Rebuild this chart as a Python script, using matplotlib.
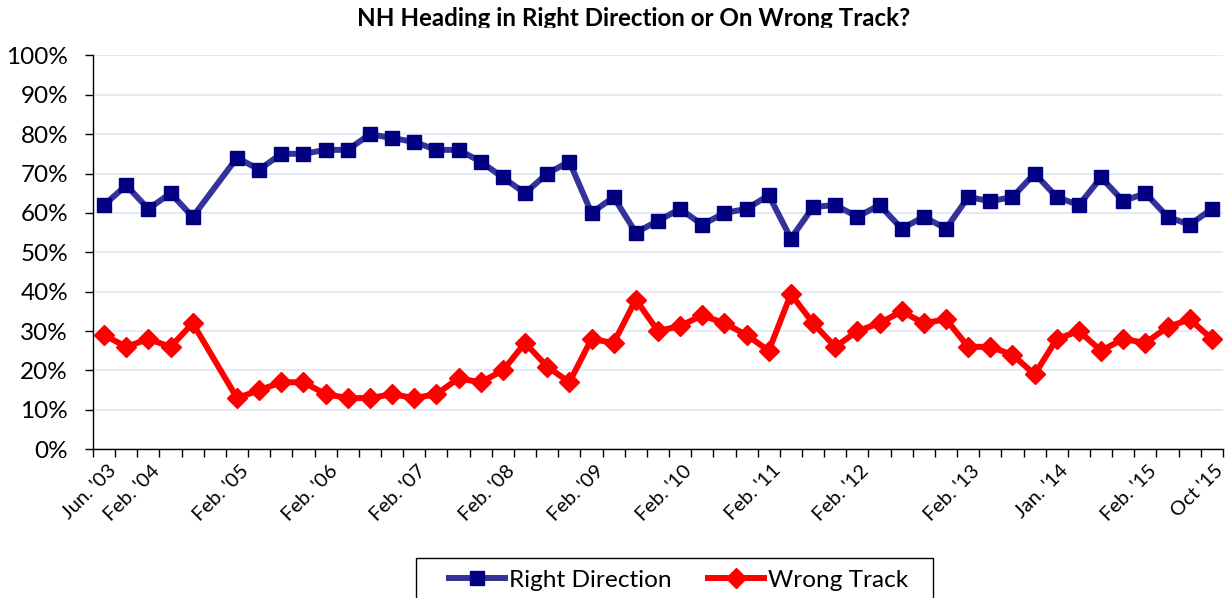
import matplotlib
matplotlib.use('Agg')
import matplotlib.pyplot as plt
import numpy as np
from matplotlib.transforms import ScaledTranslation
from matplotlib.ticker import FuncFormatter, MultipleLocator
from matplotlib.patches import Rectangle

plt.rcParams['font.family'] = ['Lato', 'DejaVu Sans']

categories = ["Jun. '03", "", "Feb. '04", "", "", "", "Feb. '05", "", "", "",
              "Feb. '06", "", "", "", "Feb. '07", "", "", "", "Feb. '08", "",
              "", "", "Feb. '09", "", "", "", "Feb. '10", "", "", "",
              "Feb. '11", "", "", "", "Feb. '12", "", "", "", "", "Feb. '13",
              "", "", "", "Jan. '14", "", "", "", "Feb. '15", "", "", "Oct '15"]

right_direction = [62, 67, 61, 65, 59, None, 74, 71, 75, 75, 76, 76, 80, 79, 78,
                   76, 76, 73, 69, 65, 70, 73, 60, 64, 55, 58, 61, 57, 60, 61,
                   64.5, 53.5, 61.5, 62, 59, 62, 56, 59, 56, 64, 63, 64, 70, 64,
                   62, 69, 63, 65, 59, 57, 61]

wrong_track = [29, 26, 28, 26, 32, None, 13, 15, 17, 17, 14, 13, 13, 14, 13, 14,
               18, 17, 20, 27, 21, 17, 28, 27, 38, 30, 31.3, 34, 32, 29, 25, 39.4,
               32, 26, 30, 32, 35, 32, 33, 26, 26, 24, 19, 28, 30, 25, 28, 27, 31,
               33, 28]

title = "NH Heading in Right Direction or On Wrong Track?"

W, H = 1227, 598
fig = plt.figure(figsize=(W / 100, H / 100), dpi=100)
ax = fig.add_axes([0.0758, 0.2487, 0.9209, 0.6588])

n = len(categories)
idx = np.arange(n)

def series(vals):
    xs = [i for i, v in zip(idx, vals) if v is not None]
    ys = [v / 100.0 for v in vals if v is not None]
    return xs, ys

xr, yr = series(right_direction)
xw, yw = series(wrong_track)

ax.plot(xr, yr, color='#333399', lw=4.3, marker='s', markersize=9.5,
        markerfacecolor='#000080', markeredgecolor='#000080',
        label='Right Direction', zorder=3, solid_joinstyle='round')
ax.plot(xw, yw, color='#FF0000', lw=4.3, marker='D', markersize=10,
        markerfacecolor='#FF0000', markeredgecolor='#FF0000',
        label='Wrong Track', zorder=3, solid_joinstyle='round')

ax.set_xlim(-0.5, n - 0.5)
ax.set_ylim(0, 1.0)
ax.yaxis.set_major_locator(MultipleLocator(0.1))
ax.yaxis.set_major_formatter(FuncFormatter(lambda v, p: f"{v*100:.0f}%"))
ax.grid(axis='y', color='#DCE4F2', lw=1.1, zorder=0)
ax.set_axisbelow(True)

for s in ['top', 'right']:
    ax.spines[s].set_visible(False)
ax.spines['left'].set_color('black')
ax.spines['bottom'].set_color('black')
ax.spines['left'].set_linewidth(1.0)
ax.spines['bottom'].set_linewidth(1.0)

ax.tick_params(axis='y', labelsize=17.5, length=6, width=1, pad=12, direction='out')

# category boundaries as minor ticks
ax.set_xticks(np.arange(-0.5, n, 1.0), minor=True)
ax.tick_params(axis='x', which='minor', length=6, width=1, direction='out')
lab_pos = [i for i, c in enumerate(categories) if c]
lab_txt = [c for c in categories if c]
ax.set_xticks(lab_pos)
ax.set_xticklabels(lab_txt, rotation=45, ha='right', va='top',
                   rotation_mode='anchor', fontsize=14.5)
ax.tick_params(axis='x', which='major', length=0, pad=9)
off = ScaledTranslation(3 / 100, 0, fig.dpi_scale_trans)
for lbl in ax.get_xticklabels():
    lbl.set_transform(lbl.get_transform() + off)

fig.text(0.516, 1 - 26 / H, title, ha='center', va='baseline',
         fontsize=17.4, fontweight='bold')
# the title is clipped at its baseline in the original picture
fig.patches.append(Rectangle((0, 1 - 45 / H), 1, 17 / H,
                             transform=fig.transFigure, color='white', zorder=5))

leg = fig.legend(loc='center', bbox_to_anchor=(678.5 / W, 1 - 580 / H),
                 ncol=2, fontsize=17.6, frameon=False, handlelength=2.3,
                 columnspacing=1.5, borderpad=0, borderaxespad=0,
                 handletextpad=0.16)
# legend frame (bottom edge falls outside the picture, as in the original)
fig.patches.append(Rectangle((416 / W, -10 / H), (933 - 416) / W, (50) / H,
                             transform=fig.transFigure, facecolor='none',
                             edgecolor='black', lw=1.0, zorder=4))

fig.savefig('out.png', dpi=100)
